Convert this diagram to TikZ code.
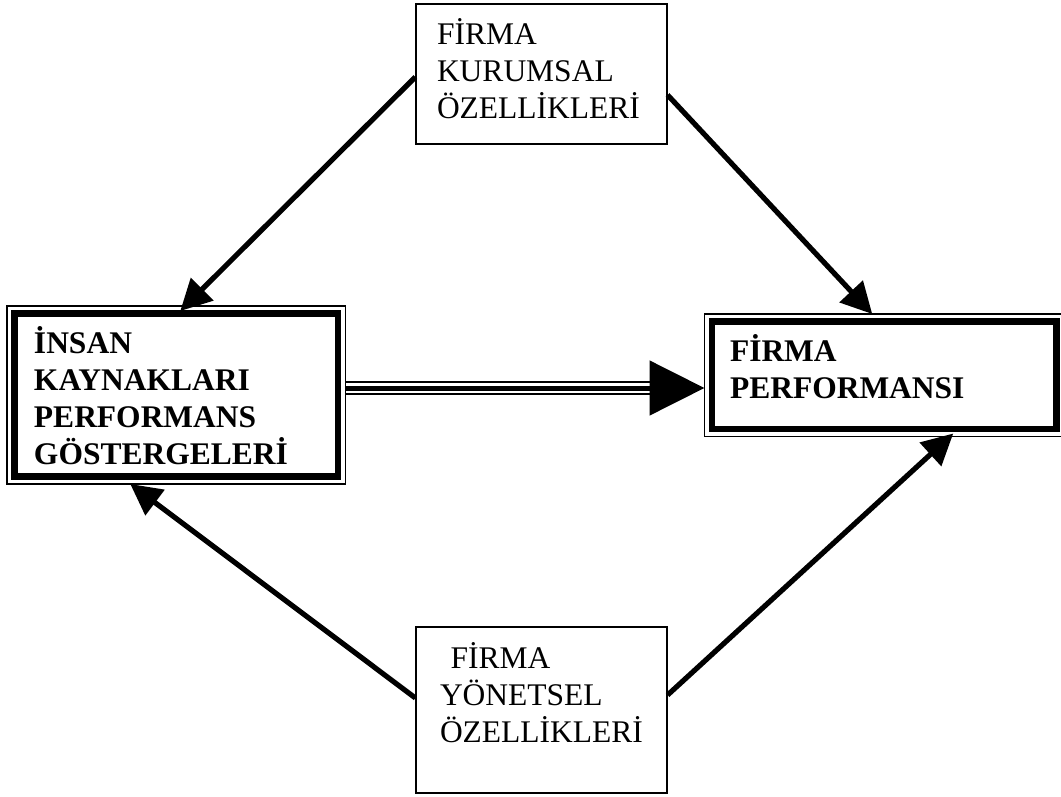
\documentclass[tikz,border=0pt]{standalone}
\usepackage{fontspec}
\setmainfont{Liberation Serif}
\usetikzlibrary{calc}
\usetikzlibrary{arrows.meta}

\begin{document}
\begin{tikzpicture}[x=1pt, y=-1pt,
    boxtext/.style={align=left, font=\fontsize{31.5}{37}\selectfont, inner ysep=0pt, text height=25pt},
    plainbox/.style={boxtext, draw, line width=1.2pt, minimum width=251pt, inner xsep=21pt, text width=209pt},
    twinbox/.style={boxtext, draw, line width=6.5pt, outer sep=7.5pt, font=\fontsize{31.5}{37}\selectfont\bfseries},
    thinline/.style={line width=1.2pt},
    link/.style={line width=5.2pt, -{Triangle[length=31pt,width=31pt]}}]
  \useasboundingbox (0,0) rectangle (1061,796);

  \node[plainbox, minimum height=140pt, text depth=85pt] (kurumsal) at (541.5,74) {FİRMA\\KURUMSAL\\ÖZELLİKLERİ};
  \node[plainbox, minimum height=166pt, text depth=109pt, inner xsep=24pt, text width=203pt] (yonetsel) at (541.5,710) {\ FİRMA\\YÖNETSEL\\ÖZELLİKLERİ};
  \node[twinbox, minimum width=323.5pt, minimum height=163pt, inner xsep=19.5pt, text width=284.5pt, text depth=109pt] (ik) at (176.25,395) {İNSAN\\KAYNAKLARI\\PERFORMANS\\GÖSTERGELERİ};
  \node[twinbox, minimum width=344.5pt, minimum height=107.5pt, inner xsep=18pt, text width=308.5pt, text depth=53.5pt] (perf) at (884.25,375.25) {FİRMA\\PERFORMANSI};

  \draw[thinline] (ik.north west) rectangle (ik.south east);
  \draw[thinline] (perf.north west) rectangle (perf.south east);

  \draw[link] ($(kurumsal.west)+(0,3)$) -- ($(ik.north)+(4,5)$);
  \draw[link] ($(kurumsal.east)+(0,21)$) -- ($(perf.north)+(-12,0)$);
  \draw[link] ($(yonetsel.west)+(0,-12)$) -- ($(ik.south)+(-46,0)$);
  \draw[link] ($(yonetsel.east)+(0,-15)$) -- ($(perf.south)+(69,-3)$);

  \coordinate (m1) at ($(ik.east)+(0,-7)$);
  \coordinate (m2) at (m1 -| perf.west);
  \draw[line width=5pt, -{Triangle[length=55pt,width=54pt]}] (m1) -- (m2);
  \draw[line width=1.3pt, shorten >=55pt] ($(m1)+(0,-6)$) -- ($(m2)+(0,-6)$);
  \draw[line width=1.3pt, shorten >=55pt] ($(m1)+(0,6)$) -- ($(m2)+(0,6)$);
\end{tikzpicture}
\end{document}
